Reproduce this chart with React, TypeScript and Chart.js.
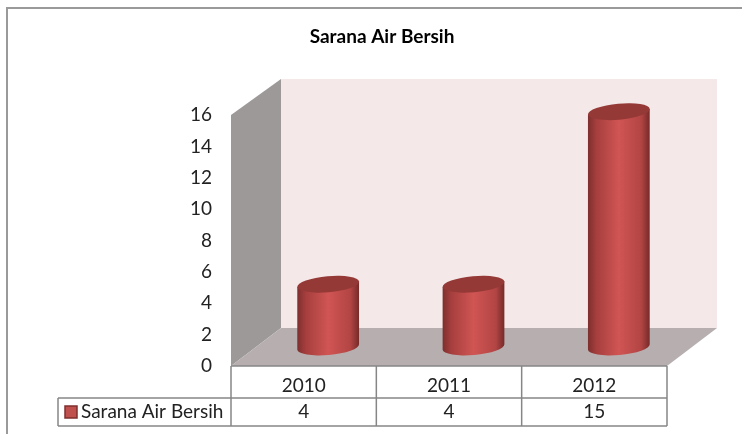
import React, { useEffect, useRef } from "react";
import { Chart, registerables } from "chart.js";

Chart.register(...registerables);

const title = "Sarana Air Bersih";
const seriesName = "Sarana Air Bersih";
const categories = ["2010", "2011", "2012"];
const seriesValues = [4, 4, 15];
const yTicks = { min: 0, max: 16, step: 2 };

const FONT = "Lato, Carlito, sans-serif";
const DX = 50;
const DY = 38;
const TILT = -0.09;
const RY = 8;

function cylinder(ctx: CanvasRenderingContext2D, cx: number, top: number, base: number, w: number) {
  const rx = w / 2;
  const dx = rx * Math.cos(TILT);
  const dy = rx * Math.sin(TILT);
  const g = ctx.createLinearGradient(cx - dx, 0, cx + dx, 0);
  g.addColorStop(0, "#7d2f2e");
  g.addColorStop(0.14, "#a63f3e");
  g.addColorStop(0.5, "#d05553");
  g.addColorStop(0.86, "#b24544");
  g.addColorStop(1, "#762a29");
  ctx.beginPath();
  ctx.moveTo(cx - dx, top - dy);
  ctx.lineTo(cx + dx, top + dy);
  ctx.lineTo(cx + dx, base + dy);
  ctx.ellipse(cx, base, rx, RY, TILT, 0, Math.PI);
  ctx.closePath();
  ctx.fillStyle = g;
  ctx.fill();
  ctx.beginPath();
  ctx.ellipse(cx, top, rx, RY, TILT, 0, Math.PI * 2);
  ctx.fillStyle = "#953937";
  ctx.fill();
}

const scene = {
  id: "scene3d",
  beforeDraw(chart: any) {
    const { ctx, chartArea: a } = chart;
    const L = a.left, R = a.right, T = a.top, B = a.bottom;
    ctx.save();
    ctx.fillStyle = "#ffffff";
    ctx.fillRect(0, 0, chart.width, chart.height);
    // outer frame
    ctx.strokeStyle = "#9a9a9a";
    ctx.lineWidth = 2;
    ctx.beginPath();
    ctx.moveTo(7, chart.height);
    ctx.lineTo(7, 8);
    ctx.lineTo(chart.width, 8);
    ctx.stroke();
    // back wall
    ctx.fillStyle = "#f4e8e8";
    ctx.fillRect(L + DX, T - DY + 2, R - L, B - T - 2);
    // side wall
    ctx.fillStyle = "#9d9999";
    ctx.beginPath();
    ctx.moveTo(L, T);
    ctx.lineTo(L + DX, T - DY + 2);
    ctx.lineTo(L + DX, B - DY);
    ctx.lineTo(L, B);
    ctx.closePath();
    ctx.fill();
    // floor
    ctx.fillStyle = "#b7afaf";
    ctx.beginPath();
    ctx.moveTo(L, B);
    ctx.lineTo(L + DX, B - DY);
    ctx.lineTo(R + DX, B - DY);
    ctx.lineTo(R, B);
    ctx.closePath();
    ctx.fill();
    // data table
    const rowMid = B + 32;
    const rowEnd = B + 60;
    const legendLeft = 58;
    ctx.strokeStyle = "#868686";
    ctx.lineWidth = 1.5;
    ctx.beginPath();
    ctx.moveTo(L, B); ctx.lineTo(R, B);
    ctx.moveTo(legendLeft, rowMid); ctx.lineTo(R, rowMid);
    ctx.moveTo(legendLeft, rowEnd); ctx.lineTo(R, rowEnd);
    ctx.moveTo(legendLeft, rowMid); ctx.lineTo(legendLeft, rowEnd);
    const n = categories.length;
    for (let i = 0; i <= n; i++) {
      const x = L + ((R - L) * i) / n;
      ctx.moveTo(x, B); ctx.lineTo(x, rowEnd);
    }
    ctx.stroke();
    // table contents
    ctx.fillStyle = "#c0504d";
    ctx.strokeStyle = "#7d2f2e";
    ctx.lineWidth = 1.5;
    ctx.fillRect(65, rowMid + 8, 12, 12);
    ctx.strokeRect(65, rowMid + 8, 12, 12);
    ctx.fillStyle = "#222222";
    ctx.font = `19px ${FONT}`;
    ctx.textBaseline = "middle";
    ctx.textAlign = "left";
    ctx.fillText(seriesName, 81, rowMid + 13.5);
    ctx.textAlign = "center";
    seriesValues.forEach((v, i) => {
      ctx.fillText(String(v), chart.scales.x.getPixelForValue(i), rowMid + 13.5);
    });
    ctx.restore();
  },
  beforeDatasetDraw(chart: any, args: any) {
    const { ctx } = chart;
    const meta = chart.getDatasetMeta(args.index);
    ctx.save();
    meta.data.forEach((el: any) => {
      cylinder(ctx, el.x + DX / 2 - 0.5, el.y - DY / 2, el.base - DY / 2, el.width);
    });
    ctx.restore();
    return false;
  },
};

export default function App() {
  const ref = useRef<HTMLCanvasElement>(null);
  useEffect(() => {
    document.body.style.margin = "0";
    const chart = new Chart(ref.current!, {
      type: "bar",
      data: {
        labels: categories,
        datasets: [
          { label: seriesName, data: seriesValues, backgroundColor: "#c0504d", barThickness: 62 },
        ],
      },
      plugins: [scene],
      options: {
        responsive: false,
        animation: false,
        layout: { padding: { left: 97, right: 75, top: 0, bottom: 0 } },
        plugins: {
          legend: { display: false },
          tooltip: { enabled: false },
          title: {
            display: true,
            text: title,
            color: "#000000",
            font: { family: FONT, size: 19, weight: "bold", lineHeight: 1.2 },
            padding: { top: 25.6, bottom: 66.6 },
          },
        },
        scales: {
          x: {
            grid: { display: false, drawTicks: false },
            border: { display: false },
            afterFit: (s: any) => { s.height = 68; },
            ticks: { color: "#222222", font: { family: FONT, size: 19 }, padding: 8, maxRotation: 0 },
          },
          y: {
            min: yTicks.min,
            max: yTicks.max,
            grid: { display: false, drawTicks: false },
            border: { display: false },
            afterFit: (s: any) => { s.width = 134; },
            ticks: { stepSize: yTicks.step, color: "#222222", font: { family: FONT, size: 19 }, padding: 19 },
          },
        },
      },
    } as any);
    return () => chart.destroy();
  }, []);
  return (
    <canvas
      ref={ref}
      width={742}
      height={434}
      style={{ display: "block", width: 742, height: 434, filter: "blur(0.5px)" }}
    />
  );
}
